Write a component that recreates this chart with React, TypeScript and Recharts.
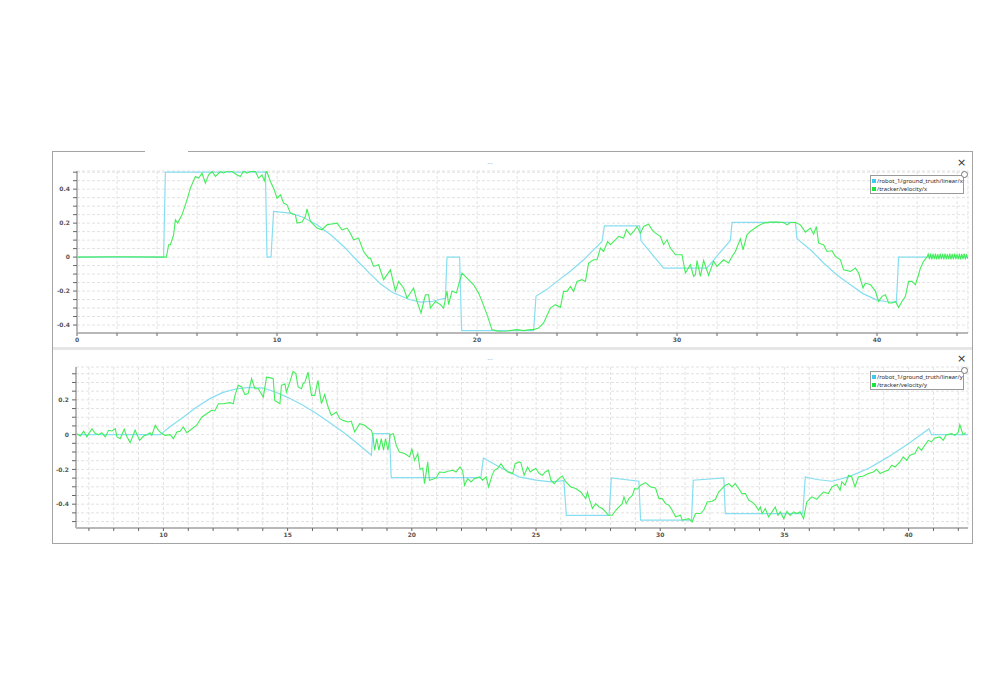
import React from 'react';
import { LineChart, Line, XAxis, YAxis, CartesianGrid } from 'recharts';

// velocity x: ground truth vs tracker, [time s, value m/s]
const truthX: [number, number][] = [
  [0, 0], [4.33, 0], [4.42, 0.5], [9.42, 0.5], [9.5, 0], [9.7, 0], [9.83, 0.269], [10.67, 0.259],
  [11.3, 0.235], [12, 0.19], [12.7, 0.13], [13.4, 0.055], [14, -0.02], [14.67, -0.1], [15.2, -0.16],
  [15.8, -0.21], [16.67, -0.251], [17.17, -0.265], [17.8, -0.26], [18.42, -0.241], [18.5, 0], [19.13, 0],
  [19.23, -0.433], [22.83, -0.433], [22.95, -0.231], [23.5, -0.19], [24, -0.143], [24.7, -0.08],
  [25.33, -0.016], [25.8, 0.04], [26.25, 0.092], [26.37, 0.184], [28.13, 0.184], [28.2, 0.096],
  [28.8, 0.01], [29.33, -0.065], [31.5, -0.065], [32.1, 0.02], [32.67, 0.098], [32.75, 0.204],
  [35.92, 0.204], [36.0, 0.108], [36.7, 0.04], [37.33, -0.035], [38, -0.105], [38.67, -0.163],
  [39.3, -0.215], [40, -0.253], [40.5, -0.263], [40.97, -0.265], [41.08, 0], [44.55, 0],
];

const trackerX: [number, number][] = [
  [0, 0], [2, 0.002], [4.47, 0], [4.58, 0.073], [4.67, 0.073], [4.83, 0.131], [4.92, 0.22], [5.03, 0.2],
  [5.25, 0.249], [5.5, 0.337], [5.67, 0.406], [5.92, 0.475], [6.08, 0.465], [6.25, 0.494], [6.42, 0.435],
  [6.58, 0.484], [6.75, 0.504], [6.92, 0.475], [7.17, 0.504], [7.33, 0.494], [7.5, 0.508], [7.75, 0.504],
  [8, 0.484], [8.17, 0.475], [8.33, 0.508], [8.5, 0.494], [8.67, 0.504], [8.92, 0.504], [9.08, 0.465],
  [9.25, 0.484], [9.37, 0.449], [9.47, 0.512], [9.67, 0.445], [9.83, 0.406], [10, 0.347], [10.17, 0.367],
  [10.33, 0.318], [10.5, 0.308], [10.67, 0.259], [10.92, 0.249], [11, 0.2], [11.25, 0.206], [11.42, 0.239],
  [11.5, 0.284], [11.67, 0.21], [12, 0.171], [12.25, 0.161], [12.5, 0.19], [13, 0.2], [13.25, 0.161],
  [13.5, 0.171], [13.67, 0.141], [13.83, 0.102], [14.08, 0.112], [14.33, 0.033], [14.58, -0.006],
  [14.67, -0.006], [14.83, -0.055], [15.08, -0.045], [15.33, -0.133], [15.67, -0.075], [15.92, -0.2],
  [16.08, -0.143], [16.33, -0.182], [16.5, -0.241], [16.83, -0.182], [17.0, -0.261], [17.2, -0.329],
  [17.42, -0.222], [17.58, -0.222], [17.67, -0.3], [17.92, -0.261], [18.17, -0.28], [18.33, -0.3],
  [18.5, -0.2], [18.58, -0.28], [18.75, -0.2], [18.97, -0.212], [19.08, -0.163], [19.25, -0.094],
  [19.5, -0.124], [19.83, -0.163], [20.08, -0.212], [20.25, -0.261], [20.5, -0.339], [20.75, -0.427],
  [20.92, -0.433], [21.08, -0.437], [21.5, -0.435], [22, -0.427], [22.33, -0.433], [22.67, -0.427],
  [22.83, -0.427], [23.08, -0.418], [23.33, -0.388], [23.67, -0.3], [23.92, -0.28], [24.17, -0.296],
  [24.33, -0.202], [24.5, -0.202], [24.67, -0.173], [24.83, -0.202], [25, -0.143], [25.25, -0.133],
  [25.42, -0.143], [25.58, -0.035], [25.83, -0.016], [26, -0.016], [26.17, 0.053], [26.33, 0.033],
  [26.53, 0.092], [26.67, 0.073], [26.92, 0.102], [27.08, 0.122], [27.33, 0.112], [27.47, 0.161],
  [27.67, 0.131], [27.83, 0.151], [28, 0.18], [28.17, 0.141], [28.33, 0.18], [28.58, 0.194],
  [28.75, 0.161], [28.92, 0.141], [29.17, 0.122], [29.33, 0.073], [29.5, 0.102], [29.67, 0.053],
  [29.92, 0.014], [30.25, 0.014], [30.42, -0.094], [30.67, -0.045], [30.83, -0.114], [30.92, -0.104],
  [31.0, -0.02], [31.17, -0.114], [31.33, -0.02], [31.58, -0.108], [31.83, -0.025], [32, -0.055],
  [32.33, -0.016], [32.58, -0.035], [32.75, 0.004], [32.92, 0.033], [33.17, 0.108], [33.3, 0.043],
  [33.5, 0.131], [33.67, 0.151], [34, 0.18], [34.33, 0.2], [34.67, 0.206], [35, 0.206], [35.33, 0.204],
  [35.5, 0.19], [35.67, 0.204], [35.92, 0.204], [36.17, 0.19], [36.42, 0.147], [36.67, 0.171],
  [36.83, 0.135], [36.97, 0.18], [37.08, 0.082], [37.33, 0.073], [37.5, 0.033], [37.75, 0.037],
  [37.92, 0.004], [38.17, -0.016], [38.33, -0.075], [38.67, -0.084], [38.92, -0.065], [39.08, -0.094],
  [39.3, -0.182], [39.42, -0.153], [39.67, -0.163], [39.92, -0.2], [40.08, -0.261], [40.25, -0.231],
  [40.42, -0.222], [40.58, -0.27], [40.75, -0.27], [40.92, -0.261], [41.08, -0.296], [41.25, -0.261],
  [41.42, -0.231], [41.58, -0.143], [41.75, -0.143], [41.92, -0.163], [42.08, -0.104], [42.17, -0.065],
  [42.33, -0.025], [42.5, 0], [42.56, 0.018], [42.62, -0.012], [42.68, 0.02], [42.74, -0.014],
  [42.8, 0.019], [42.86, -0.012], [42.92, 0.02], [42.98, -0.013], [43.04, 0.018], [43.1, -0.014],
  [43.16, 0.02], [43.22, -0.012], [43.28, 0.019], [43.34, -0.013], [43.4, 0.02], [43.46, -0.014],
  [43.52, 0.018], [43.58, -0.012], [43.64, 0.02], [43.7, -0.013], [43.76, 0.019], [43.82, -0.014],
  [43.88, 0.02], [43.94, -0.012], [44.0, 0.018], [44.06, -0.013], [44.12, 0.02], [44.18, -0.014],
  [44.24, 0.019], [44.3, -0.012], [44.36, 0.02], [44.42, -0.013], [44.48, 0.018], [44.54, -0.01],
];

// velocity y
const truthY: [number, number][] = [
  [6.48, 0], [9.87, 0], [10.3, 0.05], [10.8, 0.1], [11.3, 0.155], [11.87, 0.207], [12.4, 0.243],
  [12.95, 0.264], [13.48, 0.272], [14.02, 0.268], [14.5, 0.245], [14.98, 0.216], [15.6, 0.17],
  [16.16, 0.121], [16.7, 0.068], [17.23, 0.015], [17.8, -0.05], [18.37, -0.119], [18.43, 0.006],
  [19.1, 0.006], [19.17, -0.247], [22.78, -0.247], [22.88, -0.134], [23.25, -0.165], [23.65, -0.195],
  [24.32, -0.243], [24.99, -0.262], [25.6, -0.272], [26.12, -0.265], [26.22, -0.464], [27.94, -0.464],
  [28.03, -0.249], [29.14, -0.268], [29.21, -0.492], [31.26, -0.492], [31.33, -0.262], [32.56, -0.249],
  [32.62, -0.454], [35.74, -0.454], [35.84, -0.243], [36.3, -0.258], [36.91, -0.268], [37.58, -0.243],
  [38.38, -0.195], [39.18, -0.128], [39.99, -0.052], [40.82, 0.034], [40.92, 0], [42.39, 0],
];

const trackerY: [number, number][] = [
  [6.52, 0.006], [6.65, -0.008], [6.79, 0.019], [6.92, -0.013], [7.12, 0.034], [7.26, 0.006], [7.39, 0],
  [7.52, 0.011], [7.66, -0.013], [7.79, 0.025], [7.93, 0.021], [8.06, 0.034], [8.13, -0.013],
  [8.26, -0.023], [8.42, 0.031], [8.53, -0.013], [8.66, -0.046], [8.86, 0.025], [9.04, -0.033],
  [9.2, -0.008], [9.33, 0], [9.46, 0.011], [9.53, -0.004], [9.67, 0.054], [9.8, 0.025], [9.93, 0.006],
  [10.07, -0.004], [10.27, 0], [10.4, -0.023], [10.54, 0.015], [10.67, 0.019], [10.8, 0.044],
  [10.94, 0.011], [11.07, 0.025], [11.34, 0.054], [11.54, 0.1], [11.74, 0.12], [11.94, 0.14],
  [12.07, 0.136], [12.21, 0.178], [12.41, 0.178], [12.68, 0.184], [12.81, 0.178], [12.88, 0.226],
  [13.01, 0.284], [13.15, 0.274], [13.28, 0.23], [13.41, 0.236], [13.55, 0.322], [13.68, 0.264],
  [13.82, 0.264], [14.02, 0.216], [14.15, 0.331], [14.28, 0.328], [14.42, 0.322], [14.48, 0.197],
  [14.69, 0.178], [14.75, 0.284], [14.89, 0.293], [14.95, 0.245], [15.09, 0.303], [15.22, 0.364],
  [15.33, 0.351], [15.42, 0.274], [15.56, 0.264], [15.62, 0.293], [15.69, 0.299], [15.82, 0.36],
  [15.96, 0.226], [16.09, 0.226], [16.22, 0.312], [16.36, 0.178], [16.49, 0.23], [16.63, 0.159],
  [16.76, 0.111], [16.96, 0.13], [17.1, 0.092], [17.23, 0.082], [17.43, 0.073], [17.56, 0.078],
  [17.7, 0.015], [17.9, 0.063], [18.1, 0.054], [18.23, 0.038], [18.37, 0.025], [18.43, 0], [18.5, -0.09],
  [18.59, -0.023], [18.67, -0.09], [18.77, -0.023], [18.86, -0.09], [18.94, -0.023], [19.04, -0.09],
  [19.13, 0], [19.26, 0.006], [19.37, -0.061], [19.5, -0.1], [19.71, -0.109], [19.91, -0.128],
  [20.0, -0.08], [20.11, -0.148], [20.24, -0.109], [20.33, -0.2], [20.44, -0.192], [20.51, -0.282],
  [20.64, -0.157], [20.71, -0.262], [20.84, -0.257], [20.98, -0.249], [21.11, -0.215], [21.31, -0.218],
  [21.45, -0.211], [21.65, -0.205], [21.78, -0.215], [21.94, -0.186], [22.05, -0.211], [22.12, -0.291],
  [22.25, -0.253], [22.38, -0.272], [22.52, -0.253], [22.72, -0.243], [22.85, -0.262], [22.99, -0.243],
  [23.09, -0.301], [23.23, -0.234], [23.32, -0.205], [23.45, -0.195], [23.59, -0.167], [23.72, -0.195],
  [23.86, -0.215], [24.06, -0.224], [24.16, -0.167], [24.32, -0.157], [24.39, -0.161], [24.52, -0.234],
  [24.66, -0.186], [24.77, -0.215], [24.86, -0.205], [24.99, -0.195], [25.13, -0.224], [25.26, -0.234],
  [25.37, -0.215], [25.5, -0.205], [25.6, -0.262], [25.73, -0.282], [25.86, -0.262], [26.0, -0.243],
  [26.06, -0.238], [26.2, -0.272], [26.4, -0.301], [26.6, -0.31], [26.8, -0.33], [27.0, -0.368],
  [27.07, -0.33], [27.16, -0.377], [27.27, -0.425], [27.4, -0.397], [27.54, -0.416], [27.67, -0.425],
  [27.8, -0.444], [27.91, -0.464], [28.07, -0.464], [28.21, -0.435], [28.34, -0.416], [28.47, -0.397],
  [28.54, -0.358], [28.63, -0.397], [28.74, -0.368], [28.88, -0.349], [28.97, -0.31], [29.08, -0.314],
  [29.21, -0.291], [29.41, -0.276], [29.61, -0.301], [29.81, -0.307], [29.95, -0.368], [30.08, -0.368],
  [30.21, -0.397], [30.35, -0.406], [30.48, -0.435], [30.62, -0.473], [30.82, -0.464], [30.88, -0.492],
  [31.15, -0.483], [31.28, -0.502], [31.42, -0.454], [31.62, -0.454], [31.75, -0.435], [31.89, -0.387],
  [32.09, -0.383], [32.22, -0.372], [32.35, -0.33], [32.49, -0.31], [32.62, -0.291], [32.76, -0.282],
  [32.89, -0.301], [33.02, -0.282], [33.16, -0.31], [33.29, -0.339], [33.43, -0.339], [33.56, -0.377],
  [33.69, -0.387], [33.83, -0.406], [33.96, -0.435], [34.03, -0.416], [34.1, -0.454], [34.23, -0.425],
  [34.36, -0.473], [34.5, -0.444], [34.63, -0.416], [34.74, -0.464], [34.83, -0.444], [34.97, -0.483],
  [35.1, -0.441], [35.23, -0.464], [35.37, -0.444], [35.5, -0.454], [35.63, -0.444], [35.77, -0.483],
  [35.9, -0.387], [36.1, -0.358], [36.3, -0.372], [36.44, -0.349], [36.57, -0.33], [36.77, -0.339],
  [36.91, -0.301], [37.11, -0.287], [37.24, -0.32], [37.31, -0.272], [37.44, -0.291], [37.58, -0.234],
  [37.71, -0.243], [37.84, -0.301], [37.98, -0.243], [38.18, -0.238], [38.38, -0.224], [38.58, -0.215],
  [38.71, -0.199], [38.85, -0.224], [39.05, -0.211], [39.18, -0.205], [39.32, -0.176], [39.45, -0.186],
  [39.65, -0.157], [39.78, -0.128], [39.92, -0.148], [40.05, -0.119], [40.25, -0.109], [40.39, -0.071],
  [40.52, -0.09], [40.65, -0.061], [40.79, -0.033], [40.92, -0.042], [41.06, -0.019], [41.26, -0.013],
  [41.39, -0.033], [41.52, 0], [41.73, 0.006], [41.86, -0.004], [42.0, 0.015], [42.06, 0.057],
  [42.19, 0], [42.3, 0.011],
];

const topXTicks = [0, 2, 4, 6, 8, 10, 12, 14, 16, 18, 20, 22, 24, 26, 28, 30, 32, 34, 36, 38, 40, 42, 44];
const topYTicks = [-0.4, -0.35, -0.3, -0.25, -0.2, -0.15, -0.1, -0.05, 0, 0.05, 0.1, 0.15, 0.2, 0.25, 0.3, 0.35, 0.4, 0.45, 0.5];
const bottomXTicks = [7, 8, 9, 10, 11, 12, 13, 14, 15, 16, 17, 18, 19, 20, 21, 22, 23, 24, 25, 26, 27, 28, 29, 30, 31, 32, 33, 34, 35, 36, 37, 38, 39, 40, 41, 42];
const bottomYTicks = [-0.5, -0.45, -0.4, -0.35, -0.3, -0.25, -0.2, -0.15, -0.1, -0.05, 0, 0.05, 0.1, 0.15, 0.2, 0.25, 0.3, 0.35];

const topXLabels = [0, 10, 20, 30, 40];
const bottomXLabels = [10, 15, 20, 25, 30, 35, 40];
const yLabels = [-0.4, -0.2, 0, 0.2, 0.4];

const CYAN = '#86def0';
const GREEN = '#44ee5a';

const rows = (pts: [number, number][]) => pts.map(([t, v]) => ({ t, v }));
const near = (list: number[], v: number) => list.some((l) => Math.abs(l - v) < 1e-6);

const tickStyle = { fontSize: 6, fill: '#555', fontWeight: 700, fontFamily: 'DejaVu Sans' };

function Legend({ top, names }: { top: number; names: string[] }) {
  return (
    <div style={{ position: 'absolute', left: 870, top, width: 94, height: 19, border: '1px solid #9a9a9a', background: '#fff', boxSizing: 'border-box', fontFamily: 'Noto Sans', fontSize: 5.9, color: '#2a2a2a', lineHeight: '8px', padding: '1px 0 0 1px', overflow: 'hidden' }}>
      {names.map((n, i) => (
        <div key={n} style={{ display: 'flex', alignItems: 'center', whiteSpace: 'nowrap' }}>
          <span style={{ width: 4, height: 4, flex: 'none', background: i === 0 ? '#40c8ee' : '#18e63a', marginRight: 1 }} />
          {n}
        </div>
      ))}
    </div>
  );
}

function Panel(props: {
  top: number; xDomain: [number, number]; yDomain: [number, number]; xTicks: number[]; yTicks: number[];
  xLabels: number[]; truth: [number, number][]; tracker: [number, number][]; names: string[]; left: number; xh: number;
}) {
  const { top, xDomain, yDomain, xTicks, yTicks, xLabels, truth, tracker, names, left, xh } = props;
  return (
    <>
      <div style={{ position: 'absolute', left: 52, top }}>
        <LineChart width={921} height={195} margin={{ top: 18, right: 5, left, bottom: 1 }}>
          <CartesianGrid stroke="#e2e2e2" strokeDasharray="3 2" />
          <XAxis type="number" dataKey="t" domain={xDomain} ticks={xTicks} interval={0} allowDataOverflow
            height={xh} tickSize={3} tickMargin={2} tick={tickStyle}
            tickFormatter={(v: number) => (near(xLabels, v) ? String(v) : '')}
            axisLine={{ stroke: '#b8b8b8', strokeWidth: 2 }} tickLine={{ stroke: '#666' }} />
          <YAxis type="number" domain={yDomain} ticks={yTicks} interval={0} allowDataOverflow
            width={24} tickSize={4} tickMargin={3} tick={tickStyle}
            tickFormatter={(v: number) => (near(yLabels, v) ? (Math.abs(v) < 1e-6 ? '0' : v.toFixed(1)) : '')}
            axisLine={{ stroke: '#b8b8b8', strokeWidth: 2 }} tickLine={{ stroke: '#666' }} />
          <Line data={rows(truth)} dataKey="v" type="linear" stroke={CYAN} strokeWidth={1.2} dot={false} isAnimationActive={false} />
          <Line data={rows(tracker)} dataKey="v" type="linear" stroke={GREEN} strokeWidth={1.1} dot={false} isAnimationActive={false} />
        </LineChart>
      </div>
      <div style={{ position: 'absolute', left: 480, top: top + 5, width: 20, textAlign: 'center', fontSize: 6, color: '#888', fontFamily: 'DejaVu Sans' }}>...</div>
      <div style={{ position: 'absolute', left: 957, top: top + 3, fontSize: 11, color: '#333', fontFamily: 'DejaVu Sans' }}>×</div>
      <Legend top={top + 22} names={names} />
      <div style={{ position: 'absolute', left: 961, top: top + 18, width: 5, height: 5, borderRadius: 4, border: '1px solid #777', background: '#fff' }} />
    </>
  );
}

export default function App() {
  return (
    <div style={{ position: 'absolute', left: 0, top: 0, width: 997, height: 698, background: '#fff', overflow: 'hidden' }}>
      <div style={{ position: 'absolute', left: 52, top: 151, width: 921, height: 393, border: '1px solid #a4a4a4', boxSizing: 'border-box' }} />
      <div style={{ position: 'absolute', left: 145, top: 150, width: 43, height: 3, background: '#fff' }} />
      <div style={{ position: 'absolute', left: 53, top: 347, width: 919, height: 3, background: '#e6e6e6' }} />
      <Panel top={153} xDomain={[0, 44.55]} yDomain={[-0.447, 0.507]} xTicks={topXTicks} yTicks={topYTicks}
        xLabels={topXLabels} truth={truthX} tracker={trackerX} left={1} xh={14}
        names={['/robot_1/ground_truth/linear/x', '/tracker/velocity/x']} />
      <Panel top={349} xDomain={[6.48, 42.39]} yDomain={[-0.537, 0.389]} xTicks={bottomXTicks} yTicks={bottomYTicks}
        xLabels={bottomXLabels} truth={truthY} tracker={trackerY} left={0} xh={15}
        names={['/robot_1/ground_truth/linear/y', '/tracker/velocity/y']} />
    </div>
  );
}
